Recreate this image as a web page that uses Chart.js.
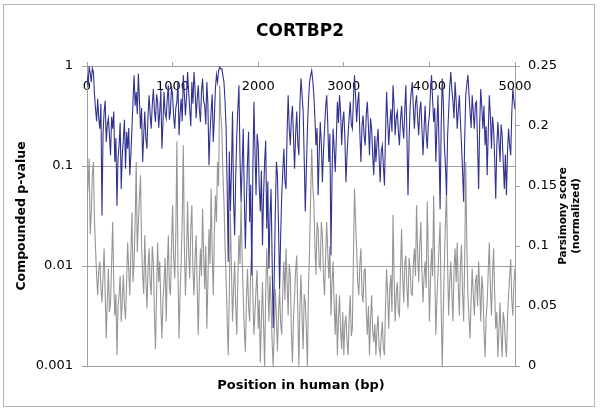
<!DOCTYPE html>
<html>
<head>
<meta charset="utf-8">
<script src="https://cdn.jsdelivr.net/npm/chart.js@4/dist/chart.umd.min.js"></script>
<style>
html, body { margin: 0; padding: 0; background: #fff; }
</style>
</head>
<body>
<canvas id="myChart" width="600" height="411"></canvas>
<script>
var ctx = document.getElementById('myChart').getContext('2d');

// position in human (bp), one sample every 12.5 bp
var positions = [
  0, 12.5, 25, 37.5, 50, 62.5, 75, 87.5, 100, 112.5, 125, 137.5, 150, 162.5, 175, 187.5,
  200, 212.5, 225, 237.5, 250, 262.5, 275, 287.5, 300, 312.5, 325, 337.5, 350, 362.5, 375, 387.5,
  400, 412.5, 425, 437.5, 450, 462.5, 475, 487.5, 500, 512.5, 525, 537.5, 550, 562.5, 575, 587.5,
  600, 612.5, 625, 637.5, 650, 662.5, 675, 687.5, 700, 712.5, 725, 737.5, 750, 762.5, 775, 787.5,
  800, 812.5, 825, 837.5, 850, 862.5, 875, 887.5, 900, 912.5, 925, 937.5, 950, 962.5, 975, 987.5,
  1000, 1012.5, 1025, 1037.5, 1050, 1062.5, 1075, 1087.5, 1100, 1112.5, 1125, 1137.5, 1150, 1162.5, 1175, 1187.5,
  1200, 1212.5, 1225, 1237.5, 1250, 1262.5, 1275, 1287.5, 1300, 1312.5, 1325, 1337.5, 1350, 1362.5, 1375, 1387.5,
  1400, 1412.5, 1425, 1437.5, 1450, 1462.5, 1475, 1487.5, 1500, 1512.5, 1525, 1537.5, 1550, 1562.5, 1575, 1587.5,
  1600, 1612.5, 1625, 1637.5, 1650, 1662.5, 1675, 1687.5, 1700, 1712.5, 1725, 1737.5, 1750, 1762.5, 1775, 1787.5,
  1800, 1812.5, 1825, 1837.5, 1850, 1862.5, 1875, 1887.5, 1900, 1912.5, 1925, 1937.5, 1950, 1962.5, 1975, 1987.5,
  2000, 2012.5, 2025, 2037.5, 2050, 2062.5, 2075, 2087.5, 2100, 2112.5, 2125, 2137.5, 2150, 2162.5, 2175, 2187.5,
  2200, 2212.5, 2225, 2237.5, 2250, 2262.5, 2275, 2287.5, 2300, 2312.5, 2325, 2337.5, 2350, 2362.5, 2375, 2387.5,
  2400, 2412.5, 2425, 2437.5, 2450, 2462.5, 2475, 2487.5, 2500, 2512.5, 2525, 2537.5, 2550, 2562.5, 2575, 2587.5,
  2600, 2612.5, 2625, 2637.5, 2650, 2662.5, 2675, 2687.5, 2700, 2712.5, 2725, 2737.5, 2750, 2762.5, 2775, 2787.5,
  2800, 2812.5, 2825, 2837.5, 2850, 2862.5, 2875, 2887.5, 2900, 2912.5, 2925, 2937.5, 2950, 2962.5, 2975, 2987.5,
  3000, 3012.5, 3025, 3037.5, 3050, 3062.5, 3075, 3087.5, 3100, 3112.5, 3125, 3137.5, 3150, 3162.5, 3175, 3187.5,
  3200, 3212.5, 3225, 3237.5, 3250, 3262.5, 3275, 3287.5, 3300, 3312.5, 3325, 3337.5, 3350, 3362.5, 3375, 3387.5,
  3400, 3412.5, 3425, 3437.5, 3450, 3462.5, 3475, 3487.5, 3500, 3512.5, 3525, 3537.5, 3550, 3562.5, 3575, 3587.5,
  3600, 3612.5, 3625, 3637.5, 3650, 3662.5, 3675, 3687.5, 3700, 3712.5, 3725, 3737.5, 3750, 3762.5, 3775, 3787.5,
  3800, 3812.5, 3825, 3837.5, 3850, 3862.5, 3875, 3887.5, 3900, 3912.5, 3925, 3937.5, 3950, 3962.5, 3975, 3987.5,
  4000, 4012.5, 4025, 4037.5, 4050, 4062.5, 4075, 4087.5, 4100, 4112.5, 4125, 4137.5, 4150, 4162.5, 4175, 4187.5,
  4200, 4212.5, 4225, 4237.5, 4250, 4262.5, 4275, 4287.5, 4300, 4312.5, 4325, 4337.5, 4350, 4362.5, 4375, 4387.5,
  4400, 4412.5, 4425, 4437.5, 4450, 4462.5, 4475, 4487.5, 4500, 4512.5, 4525, 4537.5, 4550, 4562.5, 4575, 4587.5,
  4600, 4612.5, 4625, 4637.5, 4650, 4662.5, 4675, 4687.5, 4700, 4712.5, 4725, 4737.5, 4750, 4762.5, 4775, 4787.5,
  4800, 4812.5, 4825, 4837.5, 4850, 4862.5, 4875, 4887.5, 4900, 4912.5, 4925, 4937.5, 4950, 4962.5, 4975, 4987.5,
  5000
];

// compounded p-value (left, log axis)
var pValue = [
  0.81, 0.62, 0.98, 0.85, 0.69, 0.95, 0.87, 0.52, 0.37, 0.28, 0.47, 0.30, 0.236, 0.42, 0.032, 0.21,
  0.35, 0.45, 0.174, 0.26, 0.30, 0.20, 0.128, 0.31, 0.236, 0.35, 0.110, 0.19, 0.040, 0.12, 0.161, 0.27,
  0.059, 0.13, 0.188, 0.29, 0.094, 0.22, 0.149, 0.24, 0.081, 0.13, 0.236, 0.45, 0.81, 0.40, 0.55, 0.33,
  0.84, 0.46, 0.236, 0.38, 0.110, 0.20, 0.35, 0.19, 0.149, 0.31, 0.51, 0.33, 0.236, 0.41, 0.59, 0.36,
  0.275, 0.52, 0.44, 0.24, 0.35, 0.58, 0.149, 0.27, 0.55, 0.34, 0.30, 0.47, 0.64, 0.29, 0.35, 0.63,
  0.51, 0.31, 0.236, 0.38, 0.44, 0.70, 0.203, 0.33, 0.47, 0.28, 0.81, 0.52, 0.32, 0.49, 0.87, 0.55,
  0.37, 0.25, 0.69, 0.42, 0.87, 0.58, 0.30, 0.47, 0.64, 0.37, 0.275, 0.56, 0.75, 0.45, 0.40, 0.26,
  0.69, 0.41, 0.102, 0.22, 0.35, 0.52, 0.174, 0.30, 0.59, 0.82, 0.69, 0.90, 0.98, 0.93, 0.94, 0.80,
  0.69, 0.45, 0.236, 0.06, 0.011, 0.14, 0.035, 0.09, 0.35, 0.045, 0.0203, 0.08, 0.203, 0.38, 0.64, 0.12,
  0.044, 0.10, 0.236, 0.05, 0.0149, 0.045, 0.110, 0.22, 0.0275, 0.065, 0.0081, 0.09, 0.44, 0.14, 0.051, 0.21,
  0.161, 0.06, 0.035, 0.09, 0.0161, 0.05, 0.110, 0.18, 0.0236, 0.07, 0.0094, 0.03, 0.059, 0.012, 0.0024, 0.008,
  0.035, 0.11, 0.081, 0.025, 0.0059, 0.02, 0.051, 0.09, 0.149, 0.07, 0.059, 0.21, 0.51, 0.24, 0.161, 0.30,
  0.40, 0.19, 0.094, 0.21, 0.35, 0.17, 0.128, 0.42, 0.75, 0.52, 0.35, 0.12, 0.035, 0.09, 0.236, 0.45,
  0.69, 0.80, 0.90, 0.72, 0.51, 0.30, 0.161, 0.24, 0.051, 0.13, 0.275, 0.17, 0.069, 0.14, 0.236, 0.38,
  0.51, 0.27, 0.110, 0.21, 0.0128, 0.08, 0.236, 0.15, 0.087, 0.19, 0.44, 0.27, 0.51, 0.35, 0.161, 0.28,
  0.35, 0.19, 0.069, 0.13, 0.203, 0.31, 0.44, 0.26, 0.236, 0.47, 0.81, 0.50, 0.275, 0.43, 0.55, 0.21,
  0.110, 0.25, 0.32, 0.20, 0.161, 0.33, 0.44, 0.25, 0.128, 0.30, 0.236, 0.13, 0.081, 0.20, 0.110, 0.17,
  0.236, 0.12, 0.069, 0.14, 0.161, 0.10, 0.064, 0.21, 0.55, 0.28, 0.161, 0.26, 0.37, 0.22, 0.64, 0.40,
  0.203, 0.31, 0.35, 0.22, 0.161, 0.29, 0.40, 0.25, 0.188, 0.36, 0.64, 0.20, 0.051, 0.18, 0.40, 0.55,
  0.69, 0.38, 0.236, 0.42, 0.51, 0.30, 0.203, 0.36, 0.44, 0.24, 0.128, 0.23, 0.40, 0.21, 0.149, 0.26,
  0.32, 0.55, 0.81, 0.46, 0.275, 0.38, 0.110, 0.24, 0.51, 0.16, 0.037, 0.25, 0.75, 0.44, 0.161, 0.10,
  0.051, 0.20, 0.35, 0.62, 0.87, 0.58, 0.44, 0.30, 0.69, 0.45, 0.236, 0.36, 0.51, 0.28, 0.161, 0.09,
  0.044, 0.19, 0.51, 0.66, 0.81, 0.52, 0.35, 0.24, 0.51, 0.34, 0.236, 0.42, 0.44, 0.17, 0.059, 0.26,
  0.59, 0.38, 0.236, 0.40, 0.161, 0.25, 0.081, 0.22, 0.51, 0.32, 0.149, 0.31, 0.236, 0.12, 0.047, 0.16,
  0.275, 0.18, 0.110, 0.26, 0.203, 0.11, 0.059, 0.13, 0.051, 0.14, 0.236, 0.16, 0.128, 0.34, 0.59, 0.45,
  0.37
];

// parsimony score, normalized (right axis)
var parsimony = [
  0.137, 0.150, 0.173, 0.110, 0.128, 0.160, 0.170, 0.120, 0.098, 0.075, 0.059, 0.080, 0.087, 0.065, 0.053, 0.075,
  0.098, 0.060, 0.023, 0.055, 0.081, 0.045, 0.053, 0.085, 0.120, 0.070, 0.042, 0.060, 0.009, 0.050, 0.059, 0.075,
  0.037, 0.055, 0.076, 0.050, 0.039, 0.070, 0.103, 0.080, 0.059, 0.095, 0.128, 0.070, 0.087, 0.120, 0.170, 0.095,
  0.120, 0.140, 0.159, 0.100, 0.076, 0.060, 0.109, 0.075, 0.048, 0.080, 0.098, 0.070, 0.059, 0.100, 0.087, 0.045,
  0.014, 0.060, 0.103, 0.070, 0.087, 0.050, 0.023, 0.055, 0.070, 0.090, 0.037, 0.080, 0.109, 0.065, 0.059, 0.100,
  0.134, 0.090, 0.073, 0.110, 0.187, 0.080, 0.023, 0.060, 0.087, 0.120, 0.184, 0.100, 0.059, 0.090, 0.137, 0.095,
  0.073, 0.115, 0.134, 0.080, 0.059, 0.090, 0.109, 0.065, 0.026, 0.070, 0.098, 0.075, 0.131, 0.095, 0.064, 0.100,
  0.031, 0.070, 0.114, 0.085, 0.148, 0.095, 0.059, 0.110, 0.142, 0.120, 0.170, 0.150, 0.234, 0.210, 0.198, 0.160,
  0.137, 0.100, 0.073, 0.040, 0.009, 0.060, 0.128, 0.080, 0.037, 0.065, 0.087, 0.050, 0.026, 0.075, 0.109, 0.085,
  0.137, 0.090, 0.059, 0.030, 0.012, 0.055, 0.081, 0.050, 0.037, 0.080, 0.098, 0.060, 0.026, 0.045, 0.064, 0.080,
  0.031, 0.055, 0.003, 0.040, 0.070, 0.035, 0, 0.060, 0.098, 0.070, 0.037, 0.075, 0.053, 0.020, 0, 0.030,
  0.064, 0.040, 0.012, 0.045, 0.064, 0.035, 0.026, 0.065, 0.087, 0.055, 0.098, 0.070, 0.042, 0.085, 0.076, 0.030,
  0.003, 0.040, 0.059, 0.080, 0.092, 0.045, 0, 0.050, 0.076, 0.040, 0.014, 0.060, 0.053, 0.030, 0, 0.065,
  0.098, 0.140, 0.181, 0.150, 0.137, 0.100, 0.076, 0.120, 0.114, 0.085, 0.081, 0.120, 0.109, 0.075, 0.059, 0.090,
  0.120, 0.095, 0.073, 0.100, 0.042, 0.070, 0.087, 0.050, 0.026, 0.060, 0.009, 0.040, 0.059, 0.030, 0.014, 0.045,
  0.009, 0.035, 0.042, 0.020, 0.009, 0.040, 0.059, 0.025, 0.031, 0.090, 0.148, 0.120, 0.098, 0.070, 0.059, 0.085,
  0.098, 0.060, 0.053, 0.080, 0.081, 0.045, 0.026, 0.050, 0.009, 0.040, 0.059, 0.030, 0.020, 0.035, 0.009, 0.030,
  0.042, 0.015, 0.009, 0.025, 0.037, 0.015, 0.009, 0.050, 0.081, 0.060, 0.031, 0.065, 0.076, 0.045, 0.126, 0.075,
  0.037, 0.060, 0.070, 0.045, 0.042, 0.080, 0.114, 0.075, 0.053, 0.085, 0.092, 0.065, 0.048, 0.090, 0.081, 0.060,
  0.059, 0.085, 0.098, 0.075, 0.134, 0.095, 0.070, 0.100, 0.120, 0.080, 0.053, 0.075, 0.087, 0.065, 0.137, 0.090,
  0.037, 0.070, 0.098, 0.075, 0.142, 0.080, 0.026, 0.055, 0.076, 0.100, 0.120, 0.050, 0, 0.045, 0.087, 0.120,
  0.148, 0.085, 0.042, 0.070, 0.087, 0.060, 0.037, 0.080, 0.098, 0.070, 0.103, 0.065, 0.042, 0.085, 0.101, 0.060,
  0.037, 0.090, 0.170, 0.100, 0.059, 0.040, 0.023, 0.055, 0.081, 0.060, 0.042, 0.070, 0.076, 0.050, 0.087, 0.065,
  0.037, 0.075, 0.064, 0.030, 0.0075, 0.040, 0.053, 0.080, 0.103, 0.065, 0.042, 0.075, 0.098, 0.060, 0.031, 0.045,
  0.0075, 0.030, 0.053, 0.025, 0.0075, 0.045, 0.037, 0.020, 0.0075, 0.040, 0.059, 0.075, 0.089, 0.055, 0.042, 0.070,
  0.081
];

var pTicks = [1, 0.1, 0.01, 0.001];
var xTickStep = 1000;
var scoreTickStep = 0.05;

var FONT = '"DejaVu Sans", Verdana, sans-serif';
var GRID = '#a0a0a0';

function pairs(xs, ys) {
  var out = [];
  for (var i = 0; i < xs.length; i++) out.push({x: xs[i], y: ys[i]});
  return out;
}

// white page + thin grey frame round the whole picture
var frame = {
  id: 'frame',
  beforeDraw: function(chart) {
    var c = chart.ctx;
    c.save();
    c.fillStyle = '#fff';
    c.fillRect(0, 0, chart.width, chart.height);
    c.strokeStyle = '#b4b4b4';
    c.lineWidth = 1;
    c.strokeRect(3.5, 4.5, 591, 402);
    c.restore();
  }
};

// right title reads bottom-to-top like the left one, on two lines
var rightTitle = {
  id: 'rightTitle',
  afterDraw: function(chart) {
    var c = chart.ctx, a = chart.chartArea;
    c.save();
    c.translate(570, (a.top + a.bottom) / 2);
    c.rotate(-Math.PI / 2);
    c.font = 'bold 10.5px ' + FONT;
    c.fillStyle = '#000';
    c.textAlign = 'center';
    c.textBaseline = 'middle';
    c.fillText('Parsimony score', 0, -6.5);
    c.fillText('(normalized)', 0, 6.5);
    c.restore();
  }
};

var chart = new Chart(ctx, {
  type: 'line',
  data: {
    datasets: [{
      label: 'Compounded p-value',
      data: pairs(positions, pValue),
      yAxisID: 'y',
      borderColor: 'rgb(50, 50, 145)',
      borderWidth: 1.1,
      pointRadius: 0,
      tension: 0,
      fill: false
    },
    {
      label: 'Parsimony score',
      data: pairs(positions, parsimony),
      yAxisID: 'y1',
      borderColor: 'rgb(150, 150, 150)',
      borderWidth: 1.1,
      pointRadius: 0,
      tension: 0,
      fill: false
    }]
  },
  options: {
    responsive: false,
    animation: false,
    layout: { padding: 0 },
    plugins: {
      legend: { display: false },
      tooltip: { enabled: false },
      title: {
        display: true,
        text: 'CORTBP2',
        color: '#000',
        font: { family: FONT, size: 17, weight: 'bold' },
        padding: { top: 21, bottom: 0 }
      }
    },
    scales: {
      x: {
        type: 'linear',
        position: 'top',
        min: 0,
        max: 5000,
        z: 1,
        afterFit: function(s) { s.height = 24.6; },
        ticks: {
          stepSize: xTickStep,
          mirror: true,
          padding: 13,
          maxRotation: 0,
          color: '#000',
          font: { family: FONT, size: 13 },
          callback: function(v) { return String(v); }
        },
        grid: { drawOnChartArea: false, tickLength: 4, color: GRID },
        border: { color: GRID }
      },
      xTitle: {
        type: 'linear',
        position: 'bottom',
        min: 0,
        max: 5000,
        afterFit: function(s) { s.height = 45; },
        ticks: { display: false },
        grid: { display: false },
        border: { display: false },
        title: {
          display: true,
          text: 'Position in human (bp)',
          color: '#000',
          font: { family: FONT, size: 13, weight: 'bold' },
          padding: { top: 0, bottom: 18 }
        }
      },
      y: {
        type: 'logarithmic',
        position: 'left',
        min: 0.001,
        max: 1,
        afterFit: function(s) { s.width = 87; },
        afterBuildTicks: function(s) {
          s.ticks = pTicks.map(function(v) { return {value: v}; });
        },
        ticks: {
          padding: 9,
          color: '#000',
          font: { family: FONT, size: 13 },
          callback: function(v) { return String(v); }
        },
        grid: { color: GRID, tickLength: 5 },
        border: { color: GRID },
        title: {
          display: true,
          text: 'Compounded p-value',
          color: '#000',
          font: { family: FONT, size: 12.5, weight: 'bold' },
          padding: { top: 14, bottom: 0 }
        }
      },
      y1: {
        type: 'linear',
        position: 'right',
        min: 0,
        max: 0.25,
        afterFit: function(s) { s.width = 85; },
        ticks: {
          stepSize: scoreTickStep,
          padding: 8,
          color: '#000',
          font: { family: FONT, size: 13 },
          callback: function(v) { return String(Math.round(v * 100) / 100); }
        },
        grid: { drawOnChartArea: false, tickLength: 5, color: GRID },
        border: { color: GRID }
      }
    }
  },
  plugins: [frame, rightTitle]
});
</script>
</body>
</html>
